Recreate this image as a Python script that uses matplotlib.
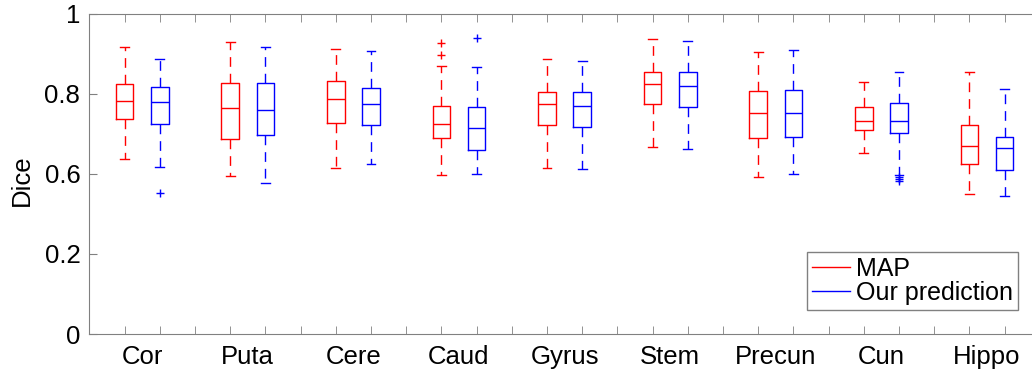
import matplotlib
matplotlib.use("Agg")
import matplotlib.pyplot as plt
from matplotlib.lines import Line2D

plt.rcParams['font.family'] = ['Liberation Sans', 'DejaVu Sans']

# regions (one tick label per pair of boxes)
regions = ["Cor", "Puta", "Cere", "Caud", "Gyrus", "Stem", "Precun", "Cun", "Hippo"]

# box statistics: [lower whisker, Q1, median, Q3, upper whisker]
map_stats = [
    [0.638, 0.738, 0.782, 0.824, 0.918],
    [0.595, 0.686, 0.764, 0.827, 0.929],
    [0.615, 0.727, 0.786, 0.833, 0.913],
    [0.598, 0.689, 0.724, 0.769, 0.870],
    [0.615, 0.723, 0.774, 0.804, 0.888],
    [0.666, 0.774, 0.824, 0.854, 0.937],
    [0.593, 0.690, 0.751, 0.808, 0.905],
    [0.651, 0.709, 0.732, 0.768, 0.830],
    [0.549, 0.624, 0.670, 0.723, 0.855],
]
ours_stats = [
    [0.617, 0.724, 0.779, 0.818, 0.887],
    [0.576, 0.697, 0.759, 0.827, 0.917],
    [0.624, 0.721, 0.775, 0.814, 0.906],
    [0.599, 0.660, 0.714, 0.768, 0.866],
    [0.611, 0.718, 0.769, 0.805, 0.881],
    [0.661, 0.768, 0.819, 0.855, 0.931],
    [0.599, 0.693, 0.751, 0.809, 0.910],
    [0.597, 0.703, 0.731, 0.776, 0.854],
    [0.544, 0.610, 0.664, 0.692, 0.812],
]
# outliers
map_fliers = [[], [], [], [0.926, 0.897], [], [], [], [], []]
ours_fliers = [[0.552], [], [], [0.940], [], [], [], [0.591, 0.586, 0.582], []]

# y axis labels as printed in the figure
ytick_vals = [0.2, 0.4, 0.6, 0.8, 1.0]
ytick_labels = ["0", "0.2", "0.6", "0.8", "1"]


def to_bxp(stats, fliers):
    out = []
    for s, f in zip(stats, fliers):
        out.append(dict(whislo=s[0], q1=s[1], med=s[2], q3=s[3], whishi=s[4], fliers=f))
    return out


fig = plt.figure(figsize=(10.32, 3.75), dpi=100)
ax = fig.add_axes([89.3 / 1032, 41 / 375, 950.4 / 1032, 320.3 / 375])

n = len(regions)
pos_map = [3 * i + 1 for i in range(n)]
pos_ours = [3 * i + 2 for i in range(n)]

dash = (0, (7, 5))
for stats, fl, pos, col in [(map_stats, map_fliers, pos_map, 'red'),
                            (ours_stats, ours_fliers, pos_ours, 'blue')]:
    ax.bxp(to_bxp(stats, fl), positions=pos, widths=0.5,
           boxprops=dict(color=col, linewidth=1.0),
           whiskerprops=dict(color=col, linewidth=1.0, linestyle=dash),
           capprops=dict(color=col, linewidth=1.0),
           medianprops=dict(color=col, linewidth=1.0),
           flierprops=dict(marker='+', markeredgecolor=col, markersize=6, markeredgewidth=1.0))

ax.set_xlim(0, 27)
ax.set_ylim(0.2, 1.0)
ax.set_yticks(ytick_vals)
ax.set_yticklabels(ytick_labels, fontsize=18.5)
ax.set_xticks([3 * i + 1.5 for i in range(n)])
ax.set_xticklabels(regions, fontsize=18.5)
ax.set_xticks(range(1, 27), minor=True)
ax.set_ylabel("Dice", fontsize=18.5)
ax.yaxis.set_label_coords(-0.058, 0.48)

gray = '#808080'
for sp in ax.spines.values():
    sp.set_color(gray)
ax.tick_params(axis='both', which='both', direction='in', color=gray,
               top=True, right=True, labelcolor='black')
ax.tick_params(axis='x', which='major', length=0, pad=8)
ax.tick_params(axis='x', which='minor', length=6)
ax.tick_params(axis='y', which='major', length=6, pad=6.5)

handles = [Line2D([], [], color='red', lw=1.0), Line2D([], [], color='blue', lw=1.0)]
leg = ax.legend(handles, ["MAP", "Our prediction"], loc='lower right',
                bbox_to_anchor=(1018 / 1032, 65 / 375), bbox_transform=fig.transFigure,
                borderaxespad=0, fancybox=False, framealpha=1, fontsize=18,
                handlelength=1.5, handletextpad=0.25, borderpad=0.2,
                labelspacing=0.02)
leg.get_frame().set_edgecolor(gray)
leg.get_frame().set_linewidth(1.0)

fig.savefig("out.png", dpi=100)
